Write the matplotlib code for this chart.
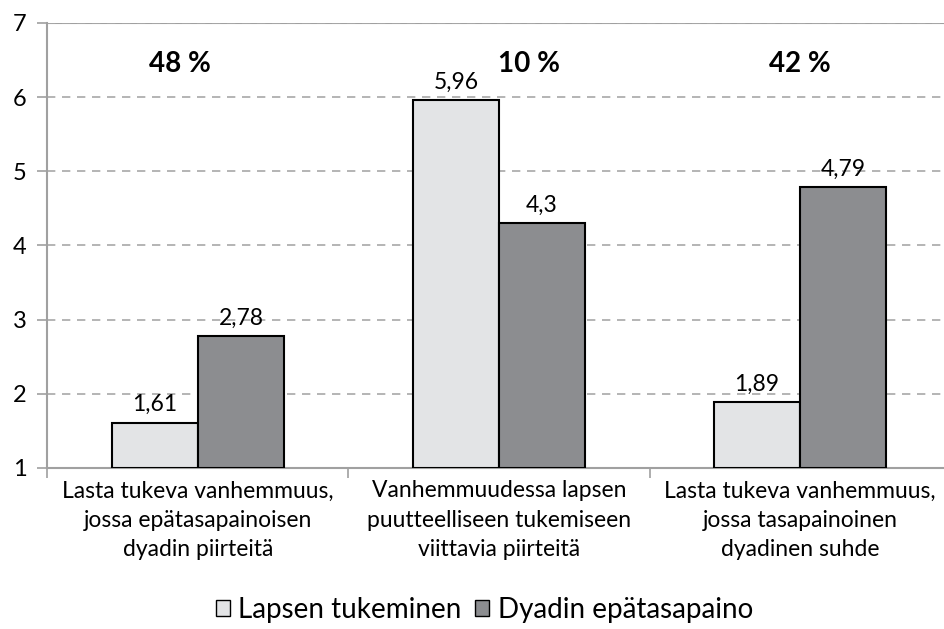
import numpy as np
import matplotlib
matplotlib.use('Agg')
import matplotlib.pyplot as plt
from matplotlib.patches import Patch

plt.rcParams['font.family'] = ['Lato', 'DejaVu Sans']

# data
categories = ['Lasta tukeva vanhemmuus,\njossa epätasapainoisen\ndyadin piirteitä',
              'Vanhemmuudessa lapsen\npuutteelliseen tukemiseen\nviittavia piirteitä',
              'Lasta tukeva vanhemmuus,\njossa tasapainoinen\ndyadinen suhde']
lapsen_tukeminen = [1.61, 5.96, 1.89]
dyadin_epatasapaino = [2.78, 4.3, 4.79]
shares = ['48 %', '10 %', '42 %']
series_names = ['Lapsen tukeminen', 'Dyadin epätasapaino']
light = '#E3E4E6'
dark = '#8C8D90'

fig = plt.figure(figsize=(9.44, 6.29), dpi=100)
ax = fig.add_axes([0.0503, 0.256, 0.9566, 0.7075])

x = np.arange(len(categories))
w = 0.286
base = 1
ax.bar(x - w / 2, np.array(lapsen_tukeminen) - base, w, bottom=base,
       color=light, edgecolor='black', linewidth=1.5, zorder=3)
ax.bar(x + w / 2, np.array(dyadin_epatasapaino) - base, w, bottom=base,
       color=dark, edgecolor='black', linewidth=1.5, zorder=3)

# value labels, comma as decimal separator
for xs, vals in ((x - w / 2, lapsen_tukeminen), (x + w / 2, dyadin_epatasapaino)):
    for xi, v in zip(xs, vals):
        ax.text(xi, v + 0.1, str(v).replace('.', ','), ha='center', va='bottom',
                fontsize=16.5, zorder=4)

# share labels at top of each group
share_x = [-0.06, 1.1, 2.0]
for xi, s in zip(share_x, shares):
    ax.text(xi, 6.45, s, ha='center', va='center', fontsize=20, fontweight='bold')

ax.set_xlim(-0.5, 2.5)
ax.set_ylim(1, 7)
ax.set_yticks(range(1, 8))
ax.set_xticks(x)
ax.set_xticklabels(categories, fontsize=16.5, linespacing=1.5)
ax.set_xticks([-0.5, 0.5, 1.5, 2.5], minor=True)
ax.tick_params(axis='x', which='major', length=0, pad=9)
ax.tick_params(axis='x', which='minor', length=7, color='#A0A0A0', width=1.2)
ax.tick_params(axis='y', length=7, color='#A0A0A0', width=1.2, labelsize=17, pad=8)

ax.yaxis.grid(True, linestyle=(0, (5, 4)), color='#A8A8A8', linewidth=1.2, zorder=0)
ax.axhline(7, color='#A0A0A0', linewidth=1.5, zorder=1)
for side in ('top', 'right'):
    ax.spines[side].set_visible(False)
for side in ('left', 'bottom'):
    ax.spines[side].set_color('#A0A0A0')
    ax.spines[side].set_linewidth(1.5)

handles = [Patch(facecolor=light, edgecolor='black', linewidth=1.0),
           Patch(facecolor=dark, edgecolor='black', linewidth=1.0)]
fig.legend(handles, series_names, loc='center', bbox_to_anchor=(0.513, 0.03),
           ncol=2, frameon=False, fontsize=20, handlelength=0.5, handleheight=0.5,
           handletextpad=0.3, columnspacing=0.5)

fig.savefig('out.png', dpi=100)
